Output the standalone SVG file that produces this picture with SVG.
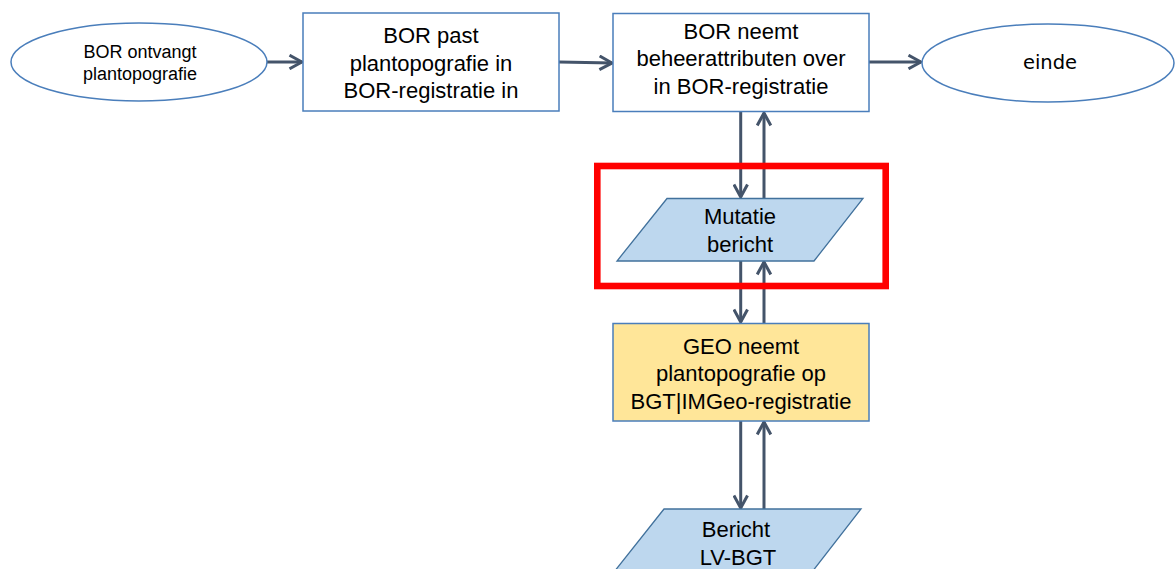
<svg xmlns="http://www.w3.org/2000/svg" width="1175" height="569" viewBox="0 0 1175 569">
  <style>
    .shape { stroke: #4A7EBB; stroke-width: 1.5; }
    .plain { fill: #FFFFFF; }
    .data { fill: #BDD7EE; stroke: #41719C; stroke-width: 1.3; }
    .geo { fill: #FFE699; }
    .t { font-family: "Liberation Sans", Arial, sans-serif; fill: #000000; text-anchor: middle; }
    .big { font-size: 22px; }
    .small { font-size: 18px; }
    .end { font-family: "DejaVu Sans", Verdana, sans-serif; font-size: 19.5px; fill: #000000; text-anchor: middle; }
    .conn { stroke: #44546A; stroke-width: 3; fill: none; marker-end: url(#arrow); }
    .hl { fill: none; stroke: #FF0000; stroke-width: 6.6; }
  </style>
  <defs>
    <marker id="arrow" markerWidth="16" markerHeight="16" refX="14" refY="8" orient="auto" markerUnits="userSpaceOnUse" viewBox="0 0 16 16">
      <path d="M1.5,1.2 L14,8 L1.5,14.8" fill="none" stroke="#44546A" stroke-width="3"/>
    </marker>
  </defs>
  <rect width="1175" height="569" fill="#FFFFFF"/>

  <g id="connectors">
    <line class="conn" x1="267" y1="62" x2="302" y2="62"/>
    <line class="conn" x1="559" y1="62" x2="612" y2="63"/>
    <line class="conn" x1="869" y1="62" x2="921" y2="62"/>
    <line class="conn" x1="740.7" y1="112" x2="740.7" y2="197"/>
    <line class="conn" x1="764" y1="198" x2="764" y2="113"/>
    <line class="conn" x1="740.7" y1="261" x2="740.7" y2="322"/>
    <line class="conn" x1="764" y1="323" x2="764" y2="262"/>
    <line class="conn" x1="740.7" y1="421" x2="740.7" y2="508"/>
    <line class="conn" x1="764" y1="509" x2="764" y2="422"/>
  </g>

  <g id="node-start">
    <ellipse class="shape plain" cx="139" cy="62" rx="128" ry="39"/>
    <text class="t small" x="140" y="58">BOR ontvangt</text>
    <text class="t small" x="140" y="80">plantopografie</text>
  </g>

  <g id="node-bor-past">
    <rect class="shape plain" x="303" y="13" width="256" height="98"/>
    <text class="t big" x="431" y="42.5">BOR past</text>
    <text class="t big" x="431" y="70.5">plantopografie in</text>
    <text class="t big" x="431" y="97.5">BOR-registratie in</text>
  </g>

  <g id="node-bor-neemt">
    <rect class="shape plain" x="613" y="13.5" width="256" height="98"/>
    <text class="t big" x="741" y="38.5">BOR neemt</text>
    <text class="t big" x="741" y="66">beheerattributen over</text>
    <text class="t big" x="741" y="93.5">in BOR-registratie</text>
  </g>

  <g id="node-einde">
    <ellipse class="shape plain" cx="1048" cy="63" rx="126" ry="39"/>
    <text class="end" x="1050" y="69">einde</text>
  </g>

  <g id="node-mutatie">
    <polygon class="data" points="667,198.5 863,198.5 814,261 617,261"/>
    <text class="t big" x="740" y="224">Mutatie</text>
    <text class="t big" x="740" y="251.5">bericht</text>
  </g>

  <g id="node-geo">
    <rect class="shape geo" x="613" y="323.5" width="256" height="97.5"/>
    <text class="t big" x="741" y="353.5">GEO neemt</text>
    <text class="t big" x="741" y="381">plantopografie op</text>
    <text class="t big" x="741" y="408.5">BGT|IMGeo-registratie</text>
  </g>

  <g id="node-bericht">
    <polygon class="data" points="664,509 861,509 812,572 614,572"/>
    <text class="t big" x="736" y="536.5">Bericht</text>
    <text class="t big" x="738" y="565">LV-BGT</text>
  </g>

  <g id="highlight">
    <rect class="hl" x="597.3" y="166" width="288.4" height="120"/>
  </g>
</svg>
